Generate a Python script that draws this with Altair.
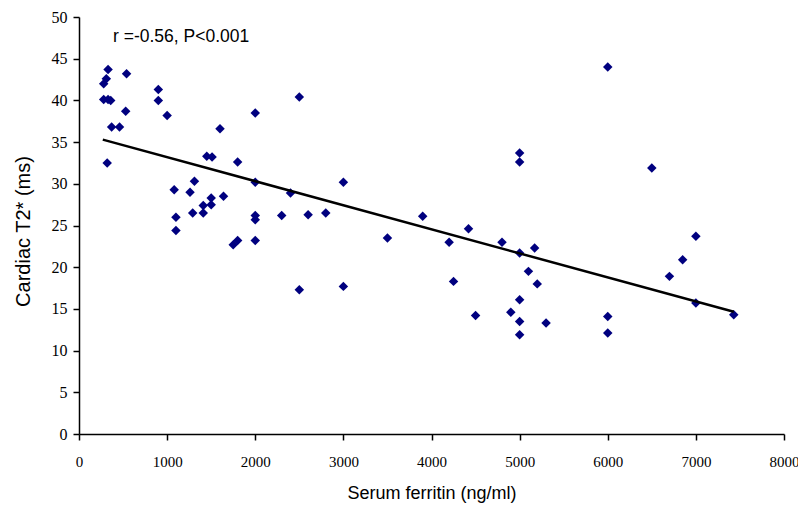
import altair as alt
import pandas as pd

ferritin = [330, 310, 280, 540, 280, 330, 360, 900, 900, 530, 370, 460, 320, 1000,
            1600, 1450, 1510, 1800, 2000, 2500, 2000, 2400, 3000, 1080, 1260, 1310,
            1100, 1100, 1290, 1410, 1410, 1500, 1500, 1640, 1750, 1800, 2000, 2000,
            2000, 2300, 2600, 2800, 2500, 3000, 3500, 3900, 4200, 4420, 4250, 4800,
            5000, 5170, 5100, 5200, 5000, 4500, 4900, 5000, 5300, 5000, 5000, 5000,
            6000, 6500, 7000, 6850, 6700, 7000, 7430, 6000, 6000]
t2star = [43.7, 42.6, 42.0, 43.2, 40.1, 40.1, 40.0, 41.3, 40.0, 38.7, 36.8, 36.8, 32.5, 38.2,
          36.6, 33.3, 33.2, 32.6, 38.5, 40.4, 30.2, 28.9, 30.2, 29.3, 29.0, 30.3,
          26.0, 24.4, 26.5, 26.5, 27.4, 28.3, 27.5, 28.5, 22.7, 23.2, 26.2, 25.7,
          23.2, 26.2, 26.3, 26.5, 17.3, 17.7, 23.5, 26.1, 23.0, 24.6, 18.3, 23.0,
          21.7, 22.3, 19.5, 18.0, 16.1, 14.2, 14.6, 13.5, 13.3, 11.9, 33.7, 32.6,
          44.0, 31.9, 23.7, 20.9, 18.9, 15.7, 14.3, 14.1, 12.1]

fit_x = [270, 7430]
fit_y = [35.3, 14.65]

ann_x = [386]
ann_y = [47.6]
ann_text = ["r =-0.56,  P<0.001"]

x_ticks = [0, 1000, 2000, 3000, 4000, 5000, 6000, 7000, 8000]
y_ticks = [0, 5, 10, 15, 20, 25, 30, 35, 40, 45, 50]

pts = pd.DataFrame({"ferritin": ferritin, "t2": t2star})
fit = pd.DataFrame({"ferritin": fit_x, "t2": fit_y})
ann = pd.DataFrame({"ferritin": ann_x, "t2": ann_y, "label": ann_text})

FONT = "Liberation Sans"
NARROW = "Liberation Sans Narrow"

xscale = alt.Scale(domain=[0, 8000], nice=False, zero=False)
yscale = alt.Scale(domain=[0, 50], nice=False, zero=False)

xaxis = alt.Axis(values=x_ticks, format="d", title="Serum ferritin (ng/ml)", grid=False,
                 labelPadding=14, titlePadding=15, labelFlush=False,
                 labelFontSize=15, titleFontSize=18)
yaxis = alt.Axis(values=y_ticks, format="d", title="Cardiac T2* (ms)", grid=False,
                 labelPadding=6, titlePadding=18, labelFontSize=16, titleFontSize=20,
                 titleY=214)

points = alt.Chart(pts).mark_point(shape="diamond", filled=True, color="#00007F",
                                   size=90, opacity=1).encode(
    x=alt.X("ferritin:Q", scale=xscale, axis=xaxis),
    y=alt.Y("t2:Q", scale=yscale, axis=yaxis),
)

line = alt.Chart(fit).mark_line(color="black", strokeWidth=2.5).encode(
    x=alt.X("ferritin:Q", scale=xscale),
    y=alt.Y("t2:Q", scale=yscale),
)

text = alt.Chart(ann).mark_text(align="left", baseline="middle", font=FONT,
                                fontSize=17.5, color="black").encode(
    x=alt.X("ferritin:Q", scale=xscale),
    y=alt.Y("t2:Q", scale=yscale),
    text="label:N",
)

chart = alt.layer(points, line, text).properties(
    width=705, height=417,
    background="white",
    autosize=alt.AutoSizeParams(type="none"),
    padding={"left": 71, "top": 9, "right": 14, "bottom": 70},
).configure_view(stroke=None).configure_axis(
    domainColor="black", domainWidth=1.5, tickColor="black", tickWidth=1.5,
    tickSize=6, labelFont=NARROW, labelColor="black",
    titleFont=FONT, titleFontWeight="normal", titleColor="black",
)

chart.save("out.html", embed_options={"renderer": "svg", "actions": False})
